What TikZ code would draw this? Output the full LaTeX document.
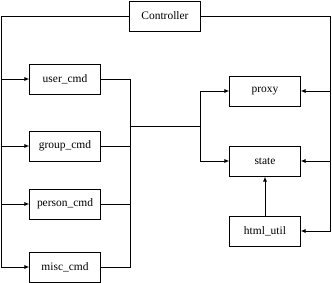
\documentclass[tikz,border=0pt]{standalone}
\usepackage{fontspec}
\setmainfont{Liberation Serif}
\usetikzlibrary{arrows.meta}

\begin{document}
\begin{tikzpicture}[x=1bp,y=-1bp,line width=1bp,
  module/.style={draw,minimum width=70bp,minimum height=30bp,inner sep=0pt,
    font=\fontsize{11.5}{13}\selectfont},
  feed/.style={-{Latex[length=5bp,width=4bp]}}]
\useasboundingbox (0,0) rectangle (332,283);

% modules
\node[module] (ctrl) at (165,16) {Controller};
\node[module] (user) at (65,79) {user\_cmd};
\node[module] (group) at (65,146) {group\_cmd};
\node[module] (person) at (65,204) {person\_cmd};
\node[module] (misc) at (65,267) {misc\_cmd};
\node[module] (proxy) at (265,91) {proxy};
\node[module] (state) at (265,161) {state};
\node[module] (html) at (265,231) {html\_util};

% bus corners
\coordinate (lbus) at (1,16);
\coordinate (rbus) at (330,16);
\coordinate (mid) at (130,126);
\coordinate (fork) at (200,126);

% Controller down the left side to the commands
\draw[feed] (ctrl.west) -- (lbus) |- (misc.west);
\foreach \m in {user,group,person}
  \draw[feed] (lbus |- \m.west) -- (\m.west);

% Controller down the right side to proxy, state, html_util
\draw[feed] (ctrl.east) -- (rbus) |- (html.east);
\foreach \m in {proxy,state}
  \draw[feed] (rbus |- \m.east) -- (\m.east);

% commands joined and fed into proxy and state
\draw (user.east) -| (mid |- misc.east) -- (misc.east);
\foreach \m in {group,person}
  \draw (\m.east) -- (mid |- \m.east);
\draw (mid) -- (fork);
\draw[feed] (fork) |- (proxy.west);
\draw[feed] (fork) |- (state.west);

% html_util up into state
\draw[feed] (html.north) -- (state.south);
\end{tikzpicture}
\end{document}
